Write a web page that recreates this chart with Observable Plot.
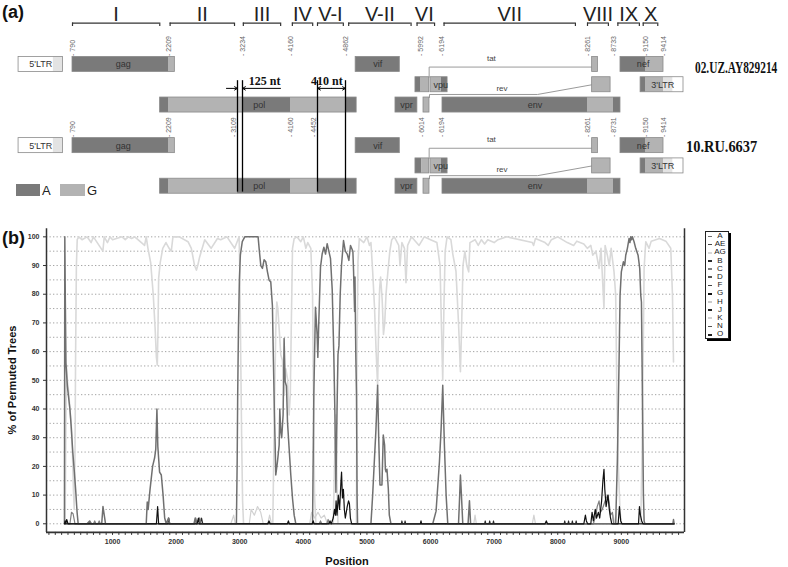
<!DOCTYPE html>
<html><head><meta charset="utf-8">
<script src="https://cdn.jsdelivr.net/npm/d3@7"></script>
<script src="https://cdn.jsdelivr.net/npm/@observablehq/plot@0.6"></script>
<style>
body{margin:0;background:#fff;font-family:"Liberation Sans",Arial,sans-serif;}
#wrap{position:relative;width:788px;height:567px;overflow:hidden;background:#fff;}
#wrap svg{position:absolute;left:0;}
.abs{position:absolute;white-space:nowrap;line-height:1;}
.panel{font-weight:bold;font-size:18px;color:#111;}
.gname{font-family:"Liberation Serif","Times New Roman",serif;font-weight:bold;font-size:16px;color:#111;transform-origin:0 50%;}
.ax{font-weight:bold;font-size:11px;color:#111;}
#bleg{position:absolute;left:705px;top:231px;width:22px;height:106px;border:1px solid #222;box-shadow:2px 2px 0 #000;background:#fff;overflow:hidden;}
#bleg .row{height:8.2px;line-height:8.2px;font-size:8px;position:relative;color:#222;}
#bleg .sw{position:absolute;left:2px;top:3.5px;width:4px;height:1.8px;}
#bleg .tx{position:absolute;left:6px;right:0;text-align:center;}
</style></head><body><div id="wrap">
<div class="abs panel" style="left:2px;top:3px;">(a)</div>
<div class="abs panel" style="left:2px;top:229px;">(b)</div>
<div class="abs gname" style="left:695px;top:60px;transform:scaleX(0.71);">02.UZ.AY829214</div>
<div class="abs gname" style="left:686px;top:139px;transform:scaleX(0.9);">10.RU.6637</div>
<div class="abs" style="left:16px;top:184px;width:24px;height:12px;background:#7a7a7a;"></div>
<div class="abs" style="left:42px;top:184px;font-size:13px;color:#222;">A</div>
<div class="abs" style="left:60px;top:184px;width:25px;height:12px;background:#b3b3b3;"></div>
<div class="abs" style="left:87px;top:184px;font-size:13px;color:#222;">G</div>
<div class="abs ax" style="left:12px;top:380px;transform:translate(-50%,-50%) rotate(-90deg);">% of Permuted Trees</div>
<div class="abs ax" style="left:347px;top:561px;transform:translate(-50%,-50%);">Position</div>
<div id="bleg"></div>
</div>
<script>
// ================= Panel (a): genome maps =================
const regionLabels = ["I","II","III","IV","V-I","V-II","VI","VII","VIII","IX","X"];
const regionStarts = [790,2230,3250,4180,4452,4910,5940,6230,8261,8790,9120];
const regionEnds   = [2080,3070,3970,4400,4830,5850,6130,8090,8640,9070,9330];

const uzBreakpoints = [790,2209,3234,4160,4862,5992,6194,8261,8733,9150,9414];
const ruBreakpoints = [790,2209,3109,4160,4452,6014,6194,8261,8731,9150,9414];

// [gene, reading frame, start, end, subtype]
const uzSegments = [
  ["5'LTR",0,1,510,"n"],["5'LTR",0,510,650,"u"],
  ["gag",0,790,2209,"A"],["gag",0,2209,2292,"G"],
  ["vif",0,5015,5680,"A"],
  ["tat2",0,8345,8450,"G"],
  ["nef",0,8824,9150,"A"],["nef",0,9150,9414,"G"],
  ["tat1",1,5916,5992,"A"],["tat1",1,5992,6080,"G"],
  ["vpu",1,6092,6194,"G"],["vpu",1,6194,6280,"A"],
  ["rev2",1,8345,8680,"G"],
  ["3'LTR",1,9086,9150,"A"],["3'LTR",1,9150,9414,"G"],["3'LTR",1,9414,9560,"u"],["3'LTR",1,9560,9719,"n"],
  ["pol",2,2085,2209,"A"],["pol",2,2209,3234,"G"],["pol",2,3234,4160,"A"],["pol",2,4160,4862,"G"],["pol",2,4862,5030,"A"],
  ["vpr",2,5615,5945,"A"],
  ["rev1",2,6028,6083,"G"],
  ["env",2,6208,8261,"A"],["env",2,8261,8733,"G"],["env",2,8733,8824,"A"]
];
const ruSegments = [
  ["5'LTR",0,1,510,"n"],["5'LTR",0,510,650,"u"],
  ["gag",0,790,2209,"A"],["gag",0,2209,2292,"G"],
  ["vif",0,5015,5680,"A"],
  ["tat2",0,8345,8450,"G"],
  ["nef",0,8824,9150,"A"],["nef",0,9150,9414,"G"],
  ["tat1",1,5916,6014,"A"],["tat1",1,6014,6080,"G"],
  ["vpu",1,6092,6194,"G"],["vpu",1,6194,6280,"A"],
  ["rev2",1,8345,8680,"G"],
  ["3'LTR",1,9086,9150,"A"],["3'LTR",1,9150,9414,"G"],["3'LTR",1,9414,9560,"u"],["3'LTR",1,9560,9719,"n"],
  ["pol",2,2085,2209,"A"],["pol",2,2209,3109,"G"],["pol",2,3109,4160,"A"],["pol",2,4160,4452,"G"],["pol",2,4452,5030,"A"],
  ["vpr",2,5615,5945,"A"],
  ["rev1",2,6028,6083,"G"],
  ["env",2,6208,8261,"A"],["env",2,8261,8731,"G"],["env",2,8731,8824,"A"]
];
const labelledGenes = ["5'LTR","gag","vif","nef","vpu","3'LTR","pol","vpr","env"];
const revBend = 7553;              // where the rev splice line starts to rise
const tatLabelPos = 6900, revLabelPos = 7050;

// breakpoint differences between the two strains
const diffLeft  = [3109, 4452];
const diffRight = [3234, 4862];
const diffLabels = ["125 nt", "410 nt"];
const diffLabelPos = [3659, 4590];
const arrow125Tails = [2965, 3967];

// ================= Panel (b): bootscan =================
const bootSubtypes = ["A","AE","AG","B","C","D","F","G","H","J","K","N","O"];
const bootA = [[244,0],[250,100],[258,78],[268,56],[290,48],[330,40],[350,34],[375,25],[400,18],[420,12],[443,4],[460,0],
 [600,0],[640,1],[670,0],[830,0],[850,6],[870,3],[890,0],[1530,0],[1546,7.6],[1560,5],[1590,12],[1630,20],[1662,23],[1680,26],
 [1698,40],[1712,27],[1740,18],[1767,17],[1795,10],[1820,2],[1845,0],[1880,2],[1900,0],[2280,0],[2300,2],[2320,0],[2370,2],[2390,0],
 [2948,0],[2960,22],[2968,45],[2980,68],[2995,85.5],[3010,93.6],[3040,98.3],[3079,100],[3289,100],[3305,96],[3331,90],[3357,89],
 [3383,92],[3410,91.3],[3436,87.8],[3462,84.9],[3488,84.3],[3514,76],[3530,56.4],[3546,37.9],[3556,28.6],[3567,17],[3593,21.6],
 [3620,27.4],[3630,40],[3646,32],[3660,30],[3682,37.9],[3698,64.6],[3714,49.5],[3735,48],[3751,35.5],[3777,26.2],[3803,17],
 [3830,8.8],[3856,3],[3882,0],[4145,0],[4165,45],[4191,75.5],[4217,66],[4228,58],[4244,71],[4270,89.4],[4296,94],[4323,96.4],
 [4349,94],[4375,97.6],[4401,95],[4427,92.5],[4454,81.7],[4480,58],[4496,39],[4512,11],[4530,40],[4545,59],[4560,62],[4580,80],
 [4600,90],[4632,98.7],[4660,95],[4690,94],[4716,91.8],[4742,97],[4779,95],[4790,88],[4806,74],[4812,86],[4825,59],[4836,45],
 [4845,10],[4853,0],[5063,0],[5090,10],[5116,21.6],[5142,33],[5168,48.3],[5185,30],[5205,13.5],[5236,13.5],[5257,30.9],[5278,27.4],
 [5290,19],[5300,18.1],[5315,19],[5336,12.3],[5352,3],[5378,0],[6035,0],[6087,4.4],[6140,21.6],[6166,33],[6192,48.3],[6218,27.4],
 [6245,10],[6271,0],[6440,0],[6455,8],[6470,17],[6490,8],[6507,0],[6590,0],[6612,8],[6630,0],[8911,0],[8937,21.6],[8964,56.4],
 [8980,79.7],[9000,87.8],[9032,91.3],[9053,90],[9069,93.6],[9095,96],[9121,99.4],[9135,98],[9148,100],[9160,99],[9174,100],
 [9200,98.3],[9226,96],[9263,93.6],[9289,89],[9305,79.7],[9316,77.3],[9326,56.4],[9337,33],[9347,10],[9358,1],[9370,0],
 [9810,0],[9820,1.5],[9830,0]];
const bootAG = [[244,0],[255,0],[265,30],[275,55],[290,50],[310,46],[330,40],[350,35],[370,25],[385,12],[398,5],[410,25],
 [420,60],[432,90],[445,99],[470,100],[520,99],[600,100],[664,98],[700,100],[848,95],[870,100],[920,98],[960,100],[1000,99],
 [1150,100],[1200,99],[1250,100],[1300,99.4],[1350,100],[1504,97],[1530,100],[1557,96],[1600,91],[1640,80],[1670,68],[1690,58],
 [1704,55.3],[1715,68],[1725,85.5],[1750,91],[1790,96],[1840,98],[1890,96],[1924,95],[1950,100],[2050,100],[2187,98.3],
 [2239,96],[2290,90],[2320,88.4],[2340,90],[2370,93],[2450,99],[2550,96],[2650,99.4],[2700,99],[2800,100],[2920,96],[2990,100],
 [3000,90],[3015,60],[3030,30],[3045,8],[3060,0],[3520,0],[3541,33],[3567,68],[3583,77.3],[3599,75],[3620,68],[3646,58.8],
 [3672,57],[3698,44.8],[3725,54],[3751,50.6],[3777,37.9],[3795,45],[3810,68],[3830,96],[3856,99.4],[3900,100],[3960,98.3],
 [4000,100],[4040,96],[4070,98],[4118,96],[4145,79.7],[4160,44.8],[4176,10],[4197,0],[4470,0],[4490,20],[4512,38],[4528,15],
 [4545,0],[4835,0],[4843,56.4],[4859,91.3],[4880,99.4],[4950,98],[5000,100],[5040,97],[5063,98],[5090,88],[5120,75],[5145,60],
 [5168,48],[5185,70],[5200,82],[5215,86],[5240,78],[5260,66],[5280,70],[5300,80],[5330,88],[5360,95],[5390,99],[5430,100],
 [5500,97],[5520,90],[5550,98],[5590,96],[5614,84],[5640,97],[5700,100],[5820,97],[5900,100],[6000,99],[6100,98],[6150,90],
 [6170,70],[6192,50],[6210,75],[6230,95],[6260,100],[6320,99],[6350,94],[6400,88],[6440,70],[6470,53],[6490,70],[6510,90],
 [6540,95],[6570,90],[6600,87.8],[6620,98],[6700,99],[6750,97],[6800,99],[6850,97.5],[6900,99],[7000,98],[7060,99],[7200,100],
 [7600,98],[7620,97],[7650,99.4],[7800,98],[7850,97],[7900,99],[8000,100],[8150,98],[8250,97],[8300,98.5],[8410,97.5],[8465,96],
 [8520,97],[8550,93.6],[8600,95],[8650,89],[8680,96],[8727,75],[8745,97],[8780,93.6],[8810,90],[8840,96],[8885,87.8],[8911,79.7],
 [8930,45],[8950,21.6],[8980,4.2],[9000,0],[9305,0],[9326,25],[9342,56.4],[9358,89],[9384,98.3],[9436,96],[9470,98.5],
 [9600,99.4],[9700,98.5],[9777,96],[9804,79.7],[9820,56.4]];
const bootG = [[244,0],[255,1],[265,0],[280,1.5],[300,0],[1690,0],[1709,6],[1725,0],[2330,0],[2350,2],[2365,0],[3440,0],
 [3460,1],[3480,0],[3750,0],[3765,1],[3780,0],[4140,0],[4155,1],[4170,0],[4400,0],[4420,1],[4440,0],[4470,2],[4490,5],[4505,3],
 [4515,8],[4530,3],[4550,10],[4570,5],[4590,14],[4601,18],[4615,9],[4630,12],[4645,5],[4660,2],[4690,6],[4711,8],[4725,7],
 [4740,2],[4760,0],[5840,0],[5850,1],[5860,0],[7800,0],[7820,1],[7840,0],[8410,0],[8435,3],[8450,1],[8470,0],[8520,0],[8540,4],
 [8560,1],[8590,5],[8610,2],[8640,4],[8660,2],[8690,8],[8710,15],[8727,19],[8740,12],[8760,6],[8790,10],[8810,5],[8830,2],
 [8850,0],[8950,0],[8970,6],[8990,1],[9010,0],[9270,0],[9285,6],[9300,3],[9320,1],[9340,0],[9830,0]];
const bootC = [[244,0],[330,0],[355,4],[380,3.5],[410,0],[700,0],[720,1],[740,0],[770,0],[790,1],[810,0],[2290,0],[2310,2],
 [2330,0],[4250,0],[4270,1],[4290,0],[4370,0],[4390,1.5],[4410,0],[8560,0],[8600,3],[8620,6],[8650,8],[8670,4],[8700,5],
 [8760,9],[8790,10],[8810,7],[8830,3],[8860,4],[8880,0],[9830,0]];
const bootK = [[244,0],[2860,0],[2905,3],[2930,0],[3150,0],[3180,5],[3230,3],[3280,6],[3330,4],[3370,0],[3440,0],[3470,3],
 [3500,0],[4100,0],[4130,4],[4180,2],[4230,4],[4280,2],[4330,3],[4380,0],[6680,0],[6700,3],[6720,0],[7600,0],[7625,3],
 [7650,0],[8840,0],[8870,3],[8900,0],[9830,0]];
const bootB = [[244,0],[1870,0],[1885,2],[1900,0],[2380,0],[2400,2],[2420,0],[5540,0],[5550,1],[5560,0],[5590,0],[5600,1],
 [5610,0],[6850,0],[6860,1],[6870,0],[6920,0],[6930,1],[6940,0],[6980,0],[6990,1],[7000,0],[8100,0],[8110,1],[8120,0],
 [8160,0],[8170,1],[8180,0],[8220,0],[8230,1],[8240,0],[8280,0],[8290,1],[8300,0],[9830,0]];

// ---------------- styles ----------------
const segFill = {domain: ["A","G","u","n"], range: ["#7a7a7a","#b3b3b3","#e3e3e3","#ffffff"]};
const bootPalette = ["#707070","#4a4a4a","#d9d9d9","#2a2a2a","#808080","#555555","#444444","#111111","#cccccc","#222222","#d2d2d2","#555555","#222222"];
const FONT = "'Liberation Sans', Arial, sans-serif";

// ---------------- build panel (a) ----------------
const genomes = [{id: "uz", off: 0, segs: uzSegments, bps: uzBreakpoints}, {id: "ru", off: 4, segs: ruSegments, bps: ruBreakpoints}];
const H = 0.37; // half box height (rows)
const segRows = [], geneRows = [], bpRows = [], paths = [], spliceLabels = [];
const diffRules = [...diffLeft, ...diffRight];
for (const g of genomes) {
  const segs = g.segs.map(([gene, frame, start, end, cls]) => ({gene, row: g.off + frame, start, end, cls}));
  segRows.push(...segs);
  const ext = new Map(d3.rollups(segs, v => ({gene: v[0].gene, row: v[0].row, start: d3.min(v, d => d.start), end: d3.max(v, d => d.end)}), d => d.gene));
  geneRows.push(...ext.values());
  // labels of genome 2 that sit on a marker line are nudged left of it
  g.bps.forEach(b => bpRows.push({x: b, y: g.off - 0.42, shift: g.off > 0 && diffRules.includes(b)}));
  const t1 = ext.get("tat1"), t2 = ext.get("tat2"), r1 = ext.get("rev1"), r2 = ext.get("rev2");
  const ty = g.off + 0.13, ry = g.off + 1.48;
  paths.push({id: g.id + "tat", x: t1.end, y: t1.row - H}, {id: g.id + "tat", x: t1.end, y: ty}, {id: g.id + "tat", x: t2.start, y: ty});
  paths.push({id: g.id + "rev", x: r1.end, y: r1.row - H}, {id: g.id + "rev", x: r1.end, y: ry},
             {id: g.id + "rev", x: revBend, y: ry}, {id: g.id + "rev", x: r2.start, y: g.off + 1.0});
  spliceLabels.push({x: tatLabelPos, y: g.off - 0.31, t: "tat"}, {x: revLabelPos, y: g.off + 1.17, t: "rev"});
}
const regions = regionLabels.map((label, i) => ({label, start: regionStarts[i], end: regionEnds[i]}));
const regionEndsFlat = regions.flatMap(d => [d.start, d.end]);
const arrowRows = [
  {x1: arrow125Tails[0], x2: diffLeft[0]}, {x1: arrow125Tails[1], x2: diffRight[0]},
  {x1: (diffLeft[1] + diffRight[1]) / 2, x2: diffLeft[1]}, {x1: (diffLeft[1] + diffRight[1]) / 2, x2: diffRight[1]}
];
const diffText = diffLabels.map((t, i) => ({t, x: diffLabelPos[i]}));

const bracketY = -2.04, arrowY = 1.18;
const bpText = {x: "x", y: "y", text: d => "- " + d.x, rotate: -90, textAnchor: "start", fontSize: 7, fill: "#666"};
const plotA = Plot.plot({
  width: 788, height: 205, margin: 0,
  x: {type: "linear",
      domain: [0, 790, 2209, 3109, 3234, 4160, 4452, 4862, 5992, 6014, 6194, 8261, 8733, 9150, 9414, 9719],
      range:  [18, 72, 168, 237, 242, 290, 317, 345, 420, 421.5, 441, 587, 613, 645, 663, 683], axis: null},
  y: {domain: [-3.15, 6.95], range: [0, 205], axis: null},
  color: segFill,
  style: {fontFamily: FONT, background: "transparent", overflow: "visible"},
  marks: [
    Plot.ruleY(regions, {y: bracketY, x1: "start", x2: "end", stroke: "#333", strokeWidth: 1.2}),
    Plot.ruleX(regionEndsFlat, {x: d => d, y1: bracketY, y2: bracketY + 0.17, stroke: "#333", strokeWidth: 1.2}),
    Plot.text(regions, {x: d => (d.start + d.end) / 2, y: bracketY - 0.1, text: "label", lineAnchor: "bottom", fontSize: 20, fill: "#222"}),
    Plot.text(bpRows.filter(d => !d.shift), bpText),
    Plot.text(bpRows.filter(d => d.shift), {...bpText, dx: -4}),
    Plot.line(paths, {x: "x", y: "y", z: "id", stroke: "#9a9a9a", strokeWidth: 1}),
    Plot.rect(segRows, {x1: "start", x2: "end", y1: d => d.row - H, y2: d => d.row + H, fill: "cls"}),
    Plot.rect(geneRows, {x1: "start", x2: "end", y1: d => d.row - H, y2: d => d.row + H, fill: "none", stroke: "#8a8a8a", strokeWidth: 0.8}),
    Plot.text(geneRows.filter(d => labelledGenes.includes(d.gene)), {x: d => (d.start + d.end) / 2, y: "row", text: "gene", fontSize: 9, fill: "#333"}),
    Plot.text(spliceLabels, {x: "x", y: "y", text: "t", fontSize: 8, fill: "#444"}),
    Plot.ruleX(diffRules, {x: d => d, y1: 0.8, y2: 6.29, stroke: "#000", strokeWidth: 1.3}),
    Plot.arrow(arrowRows, {x1: "x1", x2: "x2", y1: arrowY, y2: arrowY, stroke: "#000", strokeWidth: 1, headLength: 5}),
    Plot.text(diffText, {x: "x", y: 0.84, text: "t", fontSize: 12, fontWeight: "bold", fontFamily: "'Liberation Serif', serif", fill: "#111"})
  ]
});
plotA.style.top = "0px";
document.getElementById("wrap").appendChild(plotA);

// ---------------- build panel (b) ----------------
const xDom = [-38, 9993], yDom = [-3, 102.8];
const px = d => d[0], py = d => d[1];
const plotB = Plot.plot({
  width: 788, height: 362,
  marginTop: 23.3, marginBottom: 35.1, marginLeft: 46, marginRight: 104,
  x: {domain: xDom},
  y: {domain: yDom},
  color: {domain: bootSubtypes, range: bootPalette},
  style: {fontFamily: FONT, background: "transparent", overflow: "visible"},
  marks: [
    Plot.gridY(d3.range(0, 101, 5), {stroke: "#8c8c8c", strokeOpacity: 1, strokeWidth: 0.8, strokeDasharray: "1.3,2.2"}),
    Plot.axisY(d3.range(0, 101, 10), {tickSize: 3, tickPadding: 4, fontSize: 7, fontWeight: "bold", fill: "#333", stroke: "#333", label: null}),
    Plot.axisX(d3.range(0, 9901, 100), {tickSize: 3, tickPadding: 4, fontSize: 7, fontWeight: "bold", fill: "#333", stroke: "#333", label: null,
      tickFormat: d => (d > 0 && d % 1000 === 0) ? String(d) : ""}),
    Plot.line(bootAG, {x: px, y: py, stroke: () => "AG", strokeWidth: 1.6}),
    Plot.line(bootK, {x: px, y: py, stroke: () => "K", strokeWidth: 1.2}),
    Plot.line(bootC, {x: px, y: py, stroke: () => "C", strokeWidth: 1.2}),
    Plot.line(bootB, {x: px, y: py, stroke: () => "B", strokeWidth: 1.1}),
    Plot.line(bootA, {x: px, y: py, stroke: () => "A", strokeWidth: 1.5}),
    Plot.line(bootG, {x: px, y: py, stroke: () => "G", strokeWidth: 1.2}),
    Plot.ruleX(xDom, {stroke: "#333", strokeWidth: 1.5}),
    Plot.ruleY([yDom[0]], {stroke: "#333", strokeWidth: 1.8})
  ]
});
plotB.style.top = "205px";
document.getElementById("wrap").appendChild(plotB);

// legend for panel (b)
const leg = document.getElementById("bleg");
bootSubtypes.forEach((s, i) => {
  const row = document.createElement("div");
  row.className = "row";
  row.innerHTML = `<span class="sw" style="background:${bootPalette[i]}"></span><span class="tx">${s}</span>`;
  leg.appendChild(row);
});
</script></body></html>
